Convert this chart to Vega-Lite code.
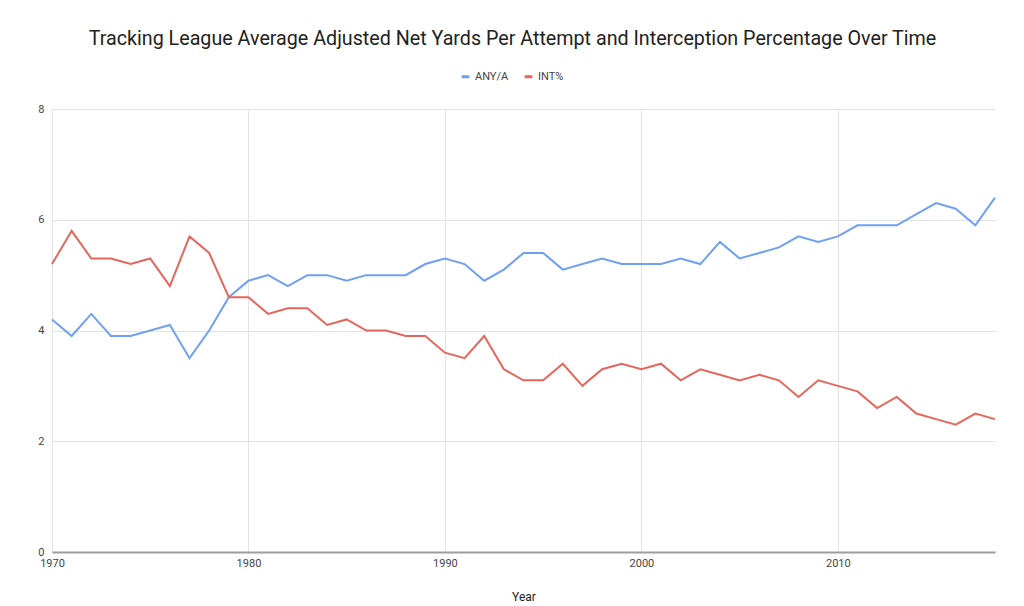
{
  "$schema": "https://vega.github.io/schema/vega-lite/v6.json",
  "autosize": "none",
  "width": 943,
  "height": 443,
  "padding": {"left": 52, "top": 109, "right": 29, "bottom": 54},
  "background": "white",
  "title": {
    "text": "Tracking League Average Adjusted Net Yards Per Attempt and Interception Percentage Over Time",
    "font": "Roboto",
    "fontSize": 19.7,
    "fontWeight": "normal",
    "color": "#222222",
    "anchor": "middle",
    "dx": -11,
    "offset": 22
  },
  "config": {
    "view": {"stroke": null},
    "axis": {"labelFont": "Roboto", "titleFont": "Roboto", "labelColor": "#444444", "titleColor": "#222222", "labelFontSize": 11, "titleFontSize": 12, "titleFontWeight": "normal", "gridColor": "#e3e3e3", "ticks": false}
  },
  "data": {
    "values": [
      {"Year": 1970, "series": "ANY/A", "value": 4.2}, {"Year": 1971, "series": "ANY/A", "value": 3.9},
      {"Year": 1972, "series": "ANY/A", "value": 4.3}, {"Year": 1973, "series": "ANY/A", "value": 3.9},
      {"Year": 1974, "series": "ANY/A", "value": 3.9}, {"Year": 1975, "series": "ANY/A", "value": 4.0},
      {"Year": 1976, "series": "ANY/A", "value": 4.1}, {"Year": 1977, "series": "ANY/A", "value": 3.5},
      {"Year": 1978, "series": "ANY/A", "value": 4.0}, {"Year": 1979, "series": "ANY/A", "value": 4.6},
      {"Year": 1980, "series": "ANY/A", "value": 4.9}, {"Year": 1981, "series": "ANY/A", "value": 5.0},
      {"Year": 1982, "series": "ANY/A", "value": 4.8}, {"Year": 1983, "series": "ANY/A", "value": 5.0},
      {"Year": 1984, "series": "ANY/A", "value": 5.0}, {"Year": 1985, "series": "ANY/A", "value": 4.9},
      {"Year": 1986, "series": "ANY/A", "value": 5.0}, {"Year": 1987, "series": "ANY/A", "value": 5.0},
      {"Year": 1988, "series": "ANY/A", "value": 5.0}, {"Year": 1989, "series": "ANY/A", "value": 5.2},
      {"Year": 1990, "series": "ANY/A", "value": 5.3}, {"Year": 1991, "series": "ANY/A", "value": 5.2},
      {"Year": 1992, "series": "ANY/A", "value": 4.9}, {"Year": 1993, "series": "ANY/A", "value": 5.1},
      {"Year": 1994, "series": "ANY/A", "value": 5.4}, {"Year": 1995, "series": "ANY/A", "value": 5.4},
      {"Year": 1996, "series": "ANY/A", "value": 5.1}, {"Year": 1997, "series": "ANY/A", "value": 5.2},
      {"Year": 1998, "series": "ANY/A", "value": 5.3}, {"Year": 1999, "series": "ANY/A", "value": 5.2},
      {"Year": 2000, "series": "ANY/A", "value": 5.2}, {"Year": 2001, "series": "ANY/A", "value": 5.2},
      {"Year": 2002, "series": "ANY/A", "value": 5.3}, {"Year": 2003, "series": "ANY/A", "value": 5.2},
      {"Year": 2004, "series": "ANY/A", "value": 5.6}, {"Year": 2005, "series": "ANY/A", "value": 5.3},
      {"Year": 2006, "series": "ANY/A", "value": 5.4}, {"Year": 2007, "series": "ANY/A", "value": 5.5},
      {"Year": 2008, "series": "ANY/A", "value": 5.7}, {"Year": 2009, "series": "ANY/A", "value": 5.6},
      {"Year": 2010, "series": "ANY/A", "value": 5.7}, {"Year": 2011, "series": "ANY/A", "value": 5.9},
      {"Year": 2012, "series": "ANY/A", "value": 5.9}, {"Year": 2013, "series": "ANY/A", "value": 5.9},
      {"Year": 2014, "series": "ANY/A", "value": 6.1}, {"Year": 2015, "series": "ANY/A", "value": 6.3},
      {"Year": 2016, "series": "ANY/A", "value": 6.2}, {"Year": 2017, "series": "ANY/A", "value": 5.9},
      {"Year": 2018, "series": "ANY/A", "value": 6.4},
      {"Year": 1970, "series": "INT%", "value": 5.2}, {"Year": 1971, "series": "INT%", "value": 5.8},
      {"Year": 1972, "series": "INT%", "value": 5.3}, {"Year": 1973, "series": "INT%", "value": 5.3},
      {"Year": 1974, "series": "INT%", "value": 5.2}, {"Year": 1975, "series": "INT%", "value": 5.3},
      {"Year": 1976, "series": "INT%", "value": 4.8}, {"Year": 1977, "series": "INT%", "value": 5.7},
      {"Year": 1978, "series": "INT%", "value": 5.4}, {"Year": 1979, "series": "INT%", "value": 4.6},
      {"Year": 1980, "series": "INT%", "value": 4.6}, {"Year": 1981, "series": "INT%", "value": 4.3},
      {"Year": 1982, "series": "INT%", "value": 4.4}, {"Year": 1983, "series": "INT%", "value": 4.4},
      {"Year": 1984, "series": "INT%", "value": 4.1}, {"Year": 1985, "series": "INT%", "value": 4.2},
      {"Year": 1986, "series": "INT%", "value": 4.0}, {"Year": 1987, "series": "INT%", "value": 4.0},
      {"Year": 1988, "series": "INT%", "value": 3.9}, {"Year": 1989, "series": "INT%", "value": 3.9},
      {"Year": 1990, "series": "INT%", "value": 3.6}, {"Year": 1991, "series": "INT%", "value": 3.5},
      {"Year": 1992, "series": "INT%", "value": 3.9}, {"Year": 1993, "series": "INT%", "value": 3.3},
      {"Year": 1994, "series": "INT%", "value": 3.1}, {"Year": 1995, "series": "INT%", "value": 3.1},
      {"Year": 1996, "series": "INT%", "value": 3.4}, {"Year": 1997, "series": "INT%", "value": 3.0},
      {"Year": 1998, "series": "INT%", "value": 3.3}, {"Year": 1999, "series": "INT%", "value": 3.4},
      {"Year": 2000, "series": "INT%", "value": 3.3}, {"Year": 2001, "series": "INT%", "value": 3.4},
      {"Year": 2002, "series": "INT%", "value": 3.1}, {"Year": 2003, "series": "INT%", "value": 3.3},
      {"Year": 2004, "series": "INT%", "value": 3.2}, {"Year": 2005, "series": "INT%", "value": 3.1},
      {"Year": 2006, "series": "INT%", "value": 3.2}, {"Year": 2007, "series": "INT%", "value": 3.1},
      {"Year": 2008, "series": "INT%", "value": 2.8}, {"Year": 2009, "series": "INT%", "value": 3.1},
      {"Year": 2010, "series": "INT%", "value": 3.0}, {"Year": 2011, "series": "INT%", "value": 2.9},
      {"Year": 2012, "series": "INT%", "value": 2.6}, {"Year": 2013, "series": "INT%", "value": 2.8},
      {"Year": 2014, "series": "INT%", "value": 2.5}, {"Year": 2015, "series": "INT%", "value": 2.4},
      {"Year": 2016, "series": "INT%", "value": 2.3}, {"Year": 2017, "series": "INT%", "value": 2.5},
      {"Year": 2018, "series": "INT%", "value": 2.4}
    ]
  },
  "mark": {"type": "line", "strokeWidth": 2},
  "encoding": {
    "x": {
      "field": "Year",
      "type": "quantitative",
      "scale": {"domain": [1970, 2018], "nice": false, "zero": false},
      "axis": {"values": [1970, 1980, 1990, 2000, 2010], "format": "d", "labelFlush": false, "labelPadding": 5, "domainColor": "#9e9e9e", "domainWidth": 2, "title": "Year", "titlePadding": 23}
    },
    "y": {
      "field": "value",
      "type": "quantitative",
      "scale": {"domain": [0, 8], "nice": false},
      "axis": {"values": [0, 2, 4, 6, 8], "domain": false, "title": null, "labelPadding": 8}
    },
    "color": {
      "field": "series",
      "type": "nominal",
      "scale": {"domain": ["ANY/A", "INT%"], "range": ["#6fa1f2", "#e5675c"]},
      "legend": {
        "title": null,
        "orient": "none",
        "direction": "horizontal",
        "legendX": 408,
        "legendY": -38,
        "symbolType": "stroke",
        "symbolSize": 60,
        "symbolStrokeWidth": 3,
        "labelFont": "Roboto",
        "labelFontSize": 11,
        "labelColor": "#444444",
        "columnPadding": 9
      }
    }
  }
}
